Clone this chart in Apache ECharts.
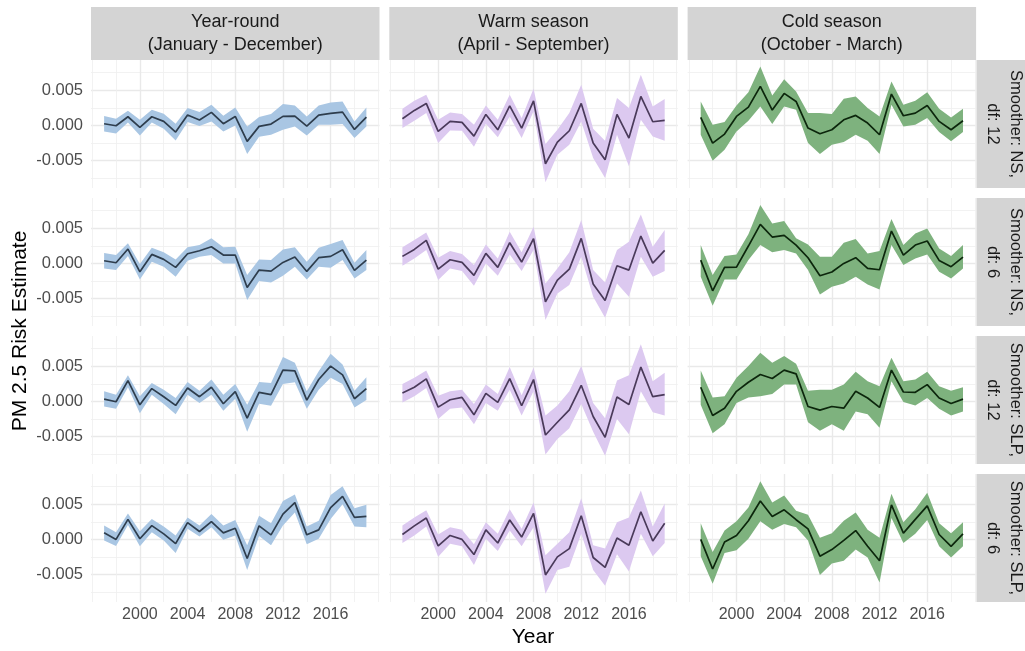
<!DOCTYPE html>
<html><head><meta charset="utf-8">
<script src="https://cdn.jsdelivr.net/npm/echarts@6/dist/echarts.min.js"></script>
<style>html,body{margin:0;padding:0;background:#fff}#c{width:1025px;height:651px}</style>
</head><body><div id="c"></div>
<script>
// ---------- data (risk estimates in units of 0.001) ----------
const years = [1997,1998,1999,2000,2001,2002,2003,2004,2005,2006,2007,2008,2009,2010,2011,2012,2013,2014,2015,2016,2017,2018,2019];
const xMajorTicks = [2000,2004,2008,2012,2016];
const xMinorTicks = [1996,1998,2002,2006,2010,2014,2018,2020];
const yMajorTicks = [-5,0,5];
const yMinorTicks = [-7.5,-2.5,2.5,7.5];
const columnLabels = ['Year-round\n(January - December)','Warm season\n(April - September)','Cold season\n(October - March)'];
const rowLabels = ['Smoother: NS,\ndf: 12','Smoother: NS,\ndf: 6','Smoother: SLP,\ndf: 12','Smoother: SLP,\ndf: 6'];

const yrNs12Est = [0.24,-0.05,1.23,-0.28,1.23,0.57,-0.95,1.47,0.76,1.85,0.24,1.28,-2.27,-0.14,0.19,1.28,1.33,-0.09,1.47,1.70,1.89,-0.57,1.18];
const yrNs12Lo  = [-0.85,-1.14,0.43,-1.42,0.43,-0.47,-2.13,0.47,-0.09,0.57,-0.85,0.00,-4.07,-1.61,-1.33,-0.62,-0.14,-1.42,0.09,0.09,0.19,-1.80,-0.14];
const yrNs12Hi  = [1.33,0.95,2.08,0.80,2.23,1.66,0.24,2.46,1.89,2.94,1.37,2.56,-0.14,1.18,1.61,3.03,2.84,1.28,2.84,3.27,3.41,0.57,2.56];

const wmNs12Est = [0.95,2.13,3.13,-0.85,0.57,0.43,-1.52,1.56,-0.62,2.79,-0.38,3.50,-5.45,-2.37,-0.76,3.13,-2.51,-4.88,1.56,-1.80,4.12,0.52,0.71];
const wmNs12Lo  = [-0.38,0.66,1.75,-2.51,-0.71,-0.76,-3.03,0.24,-1.70,1.28,-1.80,1.99,-8.10,-4.17,-2.75,0.57,-4.64,-7.48,-1.33,-5.82,0.80,-1.56,-2.18];
const wmNs12Hi  = [2.37,3.50,4.36,0.80,1.85,1.61,0.09,2.84,0.80,4.36,1.04,5.21,-2.65,-0.62,1.75,5.78,-0.47,-2.18,3.88,2.46,7.20,2.70,3.74];

const cdNs12Est = [1.14,-2.51,-1.23,1.28,2.60,5.54,2.18,4.55,3.41,-0.38,-1.18,-0.62,0.80,1.42,0.33,-1.33,4.45,1.37,1.75,2.84,0.57,-0.62,0.66];
const cdNs12Lo  = [-1.33,-5.02,-3.46,-0.85,0.66,2.70,0.19,2.70,2.23,-2.51,-4.07,-2.75,-2.37,-1.33,-2.18,-4.07,2.94,-0.14,0.09,1.04,-0.95,-2.27,-0.95];
const cdNs12Hi  = [3.41,0.09,0.47,2.84,4.73,8.38,4.26,6.58,4.83,1.75,1.75,1.61,3.79,4.12,2.46,1.28,6.25,2.94,3.50,4.73,2.37,1.14,2.37];

const yrNs6Est = [0.38,0.09,2.04,-1.19,1.28,0.57,-0.57,1.38,1.80,2.37,1.19,1.19,-3.42,-0.95,-1.09,0.14,0.90,-1.14,0.81,1.00,1.94,-1.00,0.47];
const yrNs6Lo  = [-0.71,-0.95,1.04,-2.28,0.24,-0.47,-1.90,0.38,0.95,1.19,0.00,0.00,-5.22,-2.51,-2.70,-1.76,-0.47,-2.28,-0.47,-0.62,0.47,-2.13,-0.95];
const yrNs6Hi  = [1.47,1.19,2.85,-0.09,2.23,1.57,0.57,2.28,2.61,3.56,2.28,2.37,-1.66,0.57,0.47,1.99,2.28,0.24,2.23,2.75,3.32,0.09,1.90];

const wmNs6Est = [1.00,1.99,3.27,-0.81,0.52,0.14,-1.71,1.42,-0.57,2.94,0.19,3.51,-5.46,-2.37,-0.81,3.56,-2.94,-5.27,-0.33,-0.95,3.89,0.05,1.85];
const wmNs6Lo  = [-0.33,0.71,1.90,-2.37,-0.71,-1.09,-3.18,0.00,-1.76,1.28,-1.09,1.90,-8.06,-4.27,-3.08,0.95,-4.74,-7.73,-2.85,-4.74,0.95,-1.90,-1.09];
const wmNs6Hi  = [2.28,3.32,4.41,0.81,1.76,1.33,-0.24,2.70,0.71,4.51,1.57,5.22,-2.85,-0.71,1.57,6.17,-0.95,-2.70,1.90,3.08,6.97,2.37,4.74];

const cdNs6Est = [0.47,-3.89,-0.57,-0.52,2.47,5.55,3.75,3.98,2.61,0.81,-1.76,-1.23,0.00,0.81,-0.71,-0.90,4.60,1.19,2.61,3.18,0.43,-0.47,0.90];
const cdNs6Lo  = [-1.90,-6.02,-2.28,-2.28,0.47,2.61,1.57,1.90,1.42,-0.95,-4.41,-3.32,-2.85,-1.90,-2.99,-3.70,2.61,-0.24,0.71,1.28,-1.19,-2.13,-0.71];
const cdNs6Hi  = [2.61,-1.66,1.04,1.28,4.13,8.30,5.69,6.02,3.56,2.70,0.95,0.95,2.94,3.46,1.42,1.76,6.31,2.61,4.27,4.98,2.13,1.04,2.61];

const yrSlp12Est = [0.33,-0.05,2.96,-0.48,1.82,0.67,-0.57,1.91,0.67,2.01,-0.33,1.39,-2.39,1.29,0.96,4.45,4.35,0.19,3.11,5.02,3.78,0.38,1.82];
const yrSlp12Lo  = [-0.72,-1.05,2.01,-1.67,0.96,-0.38,-1.82,0.96,-0.24,0.96,-1.34,0.38,-4.30,-0.33,-0.62,2.49,2.72,-1.05,1.67,3.35,2.49,-0.86,0.19];
const yrSlp12Hi  = [1.43,0.96,3.73,0.72,2.63,1.67,0.48,2.77,1.53,3.11,0.96,2.49,-0.48,2.77,2.63,6.31,5.50,1.43,4.30,6.79,5.26,1.53,3.44];

const wmSlp12Est = [1.20,2.01,3.20,-0.81,0.24,0.57,-1.91,1.15,-0.14,3.25,-0.62,3.11,-4.78,-2.96,-1.20,2.29,-2.15,-5.11,0.62,-0.43,4.88,0.67,0.96];
const wmSlp12Lo  = [-0.14,0.72,1.91,-2.49,-1.05,-0.86,-3.25,-0.24,-1.34,1.67,-2.01,1.43,-7.55,-5.35,-3.82,-0.38,-4.30,-7.74,-2.49,-4.68,1.43,-1.53,-2.01];
const wmSlp12Hi  = [2.49,3.35,4.40,0.81,1.43,1.67,-0.38,2.39,1.05,4.88,0.86,4.78,-2.01,-0.57,1.43,5.02,-0.24,-2.39,2.96,3.73,8.13,2.87,4.06];

const cdSlp12Est = [2.01,-2.01,-0.96,1.43,2.72,3.82,3.25,4.45,3.92,-0.72,-1.24,-0.72,-0.96,1.43,0.48,-0.86,4.45,1.34,1.29,2.39,0.48,-0.29,0.33];
const cdSlp12Lo  = [-0.48,-4.54,-3.25,-0.24,0.57,0.72,1.05,2.39,2.39,-2.96,-4.16,-3.25,-4.16,-1.43,-1.82,-3.73,2.87,-0.10,-0.57,0.48,-1.05,-2.01,-1.43];
const cdSlp12Hi  = [4.40,0.57,0.72,3.35,5.02,6.93,5.50,6.45,5.35,1.53,1.67,1.67,2.39,4.21,2.87,2.15,6.21,2.87,3.11,4.21,2.15,1.53,2.01];

const yrSlp6Est = [0.93,0.00,2.85,0.09,1.96,0.79,-0.61,2.38,1.12,2.52,0.93,1.59,-2.71,1.92,0.65,3.60,5.23,0.65,1.36,4.53,6.12,3.13,3.27];
const yrSlp6Lo  = [-0.14,-0.93,2.06,-0.98,1.03,-0.14,-1.92,1.50,0.42,1.73,-0.05,0.56,-4.35,0.47,-0.84,1.96,3.83,-0.70,0.09,2.90,5.00,1.82,1.73];
const yrSlp6Hi  = [1.96,1.03,3.69,1.17,2.90,1.82,0.56,3.13,1.96,3.60,1.96,2.76,-0.84,3.36,2.29,5.47,6.40,1.82,2.66,6.31,7.57,4.44,4.91];

const wmSlp6Est = [0.70,1.92,3.04,-0.93,0.56,0.00,-2.15,1.36,-0.51,2.76,0.33,3.69,-5.05,-2.48,-1.31,3.36,-2.57,-3.97,0.19,-0.84,3.93,-0.23,2.29];
const wmSlp6Lo  = [-0.51,0.56,1.82,-2.48,-0.61,-0.98,-3.64,0.09,-1.64,1.26,-0.98,1.73,-7.71,-4.35,-3.88,0.79,-4.35,-6.59,-2.10,-4.58,0.79,-2.38,-0.51];
const wmSlp6Hi  = [1.96,3.13,4.16,0.70,1.73,1.36,-0.70,2.43,0.79,4.30,1.50,5.23,-2.24,-0.61,1.03,5.84,-0.84,-1.31,2.43,3.13,6.96,1.82,5.09];

const cdSlp6Est = [0.00,-4.21,-0.37,0.56,2.66,5.47,3.27,4.21,2.80,1.50,-2.38,-1.45,-0.14,1.26,-0.98,-3.04,4.91,0.89,2.85,4.77,0.70,-0.98,0.79];
const cdSlp6Lo  = [-2.38,-6.31,-1.92,-1.54,0.09,2.57,1.36,2.20,1.73,-0.14,-5.05,-3.41,-3.04,-1.45,-2.57,-6.12,3.04,-0.51,0.79,2.76,-0.98,-2.57,-0.98];
const cdSlp6Hi  = [2.29,-1.78,1.26,2.57,4.53,8.27,5.23,6.26,4.07,3.50,0.23,0.89,2.66,3.83,1.36,0.23,6.50,2.43,4.30,6.64,2.29,0.89,2.43];

// ---------- layout / style ----------
const panels = [
  [[yrNs12Est,yrNs12Lo,yrNs12Hi],[wmNs12Est,wmNs12Lo,wmNs12Hi],[cdNs12Est,cdNs12Lo,cdNs12Hi]],
  [[yrNs6Est,yrNs6Lo,yrNs6Hi],[wmNs6Est,wmNs6Lo,wmNs6Hi],[cdNs6Est,cdNs6Lo,cdNs6Hi]],
  [[yrSlp12Est,yrSlp12Lo,yrSlp12Hi],[wmSlp12Est,wmSlp12Lo,wmSlp12Hi],[cdSlp12Est,cdSlp12Lo,cdSlp12Hi]],
  [[yrSlp6Est,yrSlp6Lo,yrSlp6Hi],[wmSlp6Est,wmSlp6Lo,wmSlp6Hi],[cdSlp6Est,cdSlp6Lo,cdSlp6Hi]]
];
const bandColors = ['#A9C6E3','#DCC9F0','#7EB27E'];
const lineColors = ['#2E3D4D','#4A3A5A','#0C260C'];
const colLeft = [91, 389.3, 687.6], panelW = 288.5;
const rowTop = [60, 198, 336, 474], panelH = 128;
const xMin = 1995.9, xMax = 2020.1, yMin = -8.9, yMax = 9.3;
const FONT = 'Liberation Sans, Arial, Helvetica, sans-serif';

const grid = [], xAxis = [], yAxis = [], series = [], graphic = [];
let g = 0;
for (let r = 0; r < 4; r++) {
  for (let c = 0; c < 3; c++) {
    grid.push({left: colLeft[c], top: rowTop[r], width: panelW, height: panelH, containLabel: false});
    const showX = r === 3, showY = c === 0;
    // major axes
    xAxis.push({gridIndex: g, type: 'value', min: xMin, max: xMax,
      axisLine: {show: false}, axisTick: {show: false, customValues: xMajorTicks},
      axisLabel: {show: showX, customValues: xMajorTicks, color: '#4D4D4D', fontSize: 16, fontFamily: FONT, margin: 5, formatter: v => String(v)},
      splitLine: {show: true, lineStyle: {color: '#E9E9E9', width: 1.4}}, z: 0});
    xAxis.push({gridIndex: g, type: 'value', min: xMin, max: xMax, position: 'bottom',
      axisLine: {show: false}, axisTick: {show: false, customValues: xMinorTicks},
      axisLabel: {show: false, customValues: xMinorTicks},
      splitLine: {show: true, lineStyle: {color: '#EFEFEF', width: 0.8}}, z: 0});
    yAxis.push({gridIndex: g, type: 'value', min: yMin, max: yMax,
      axisLine: {show: false}, axisTick: {show: false, customValues: yMajorTicks},
      axisLabel: {show: showY, customValues: yMajorTicks, color: '#4D4D4D', fontSize: 16.5, fontFamily: FONT, margin: 8,
        formatter: v => (v / 1000).toFixed(3)},
      splitLine: {show: true, lineStyle: {color: '#E9E9E9', width: 1.4}}, z: 0});
    yAxis.push({gridIndex: g, type: 'value', min: yMin, max: yMax, position: 'left',
      axisLine: {show: false}, axisTick: {show: false, customValues: yMinorTicks},
      axisLabel: {show: false, customValues: yMinorTicks},
      splitLine: {show: true, lineStyle: {color: '#EFEFEF', width: 0.8}}, z: 0});

    const [est, lo, hi] = panels[r][c];
    const bandColor = bandColors[c];
    series.push({
      type: 'custom', xAxisIndex: 2 * g, yAxisIndex: 2 * g, silent: true, z: 2,
      data: years.map((y, i) => [y, lo[i], hi[i]]),
      encode: {x: 0, y: [1, 2]},
      renderItem: (params, api) => {
        if (params.dataIndex !== 0) return null;
        const pts = [];
        for (let i = 0; i < years.length; i++) pts.push(api.coord([years[i], hi[i]]));
        for (let i = years.length - 1; i >= 0; i--) pts.push(api.coord([years[i], lo[i]]));
        return {type: 'polygon', shape: {points: pts}, style: {fill: bandColor}};
      }
    });
    series.push({
      type: 'line', xAxisIndex: 2 * g, yAxisIndex: 2 * g, silent: true, z: 3,
      data: years.map((y, i) => [y, est[i]]),
      symbol: 'none', lineStyle: {color: lineColors[c], width: 1.7}, itemStyle: {color: lineColors[c]}
    });
    g++;
  }
}

// strips
for (let c = 0; c < 3; c++) {
  graphic.push({type: 'rect', left: colLeft[c], top: 7, shape: {width: panelW, height: 53}, style: {fill: '#D4D4D4'}, z: 1});
  graphic.push({type: 'text', x: colLeft[c] + panelW / 2, y: 33.5, z: 2,
    style: {text: columnLabels[c], font: '18px ' + FONT, fill: '#1A1A1A', align: 'center', verticalAlign: 'middle', lineHeight: 23}});
}
for (let r = 0; r < 4; r++) {
  graphic.push({type: 'rect', left: 976.5, top: rowTop[r], shape: {width: 52, height: panelH}, style: {fill: '#D4D4D4'}, z: 1});
  graphic.push({type: 'text', x: 1004, y: rowTop[r] + panelH / 2, rotation: -Math.PI / 2, z: 2,
    style: {text: rowLabels[r], font: '16.5px ' + FONT, fill: '#1A1A1A', align: 'center', verticalAlign: 'middle', lineHeight: 23}});
}
// axis titles
graphic.push({type: 'text', x: 20, y: 331, rotation: Math.PI / 2, z: 2,
  style: {text: 'PM 2.5 Risk Estimate', font: '21px ' + FONT, fill: '#000', align: 'center', verticalAlign: 'middle'}});
graphic.push({type: 'text', x: 533, y: 637, z: 2,
  style: {text: 'Year', font: '21px ' + FONT, fill: '#000', align: 'center', verticalAlign: 'middle'}});

const chart = echarts.init(document.getElementById('c'));
chart.setOption({animation: false, backgroundColor: '#fff', grid, xAxis, yAxis, series, graphic});
</script>
</body></html>
